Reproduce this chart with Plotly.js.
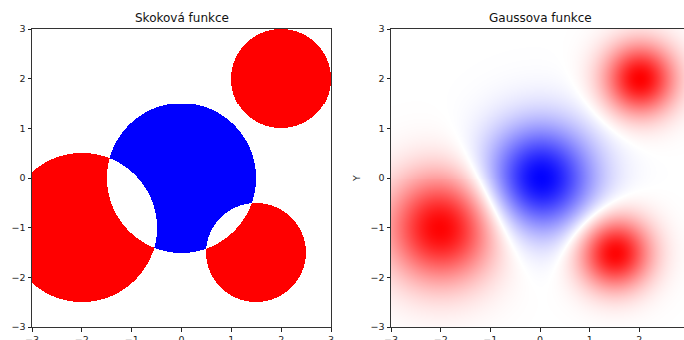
<!DOCTYPE html>
<html>
<head>
<meta charset="utf-8">
<script src="https://cdn.plot.ly/plotly-3.0.1.min.js"></script>
<style>
html,body{margin:0;padding:0;overflow:hidden;background:#fff;width:684px;height:340px;}
#plot{width:700px;height:340px;}
</style>
</head>
<body>
<div id="plot"></div>
<script>
// Circle / Gaussian parameters
const centersX = [2, 0, -2, 1.5];
const centersY = [2, 0, -1, -1.5];
const radii    = [1, 1.5, 1.5, 1];
const signs    = [1, -1, 1, 1];
const tickVals = [-3, -2, -1, 0, 1, 2, 3];
const titles   = ["Skoková funkce", "Gaussova funkce"];

const N = 300;
const grid = [];
for (let i = 0; i < N; i++) grid.push(-3 + 6 * (i + 0.5) / N);

const zStep = [], zGauss = [];
for (let j = 0; j < N; j++) {
  const rs = [], rg = [];
  for (let i = 0; i < N; i++) {
    let s = 0, g = 0;
    for (let k = 0; k < radii.length; k++) {
      const dx = grid[i] - centersX[k], dy = grid[j] - centersY[k];
      const d2 = dx * dx + dy * dy;
      if (d2 <= radii[k] * radii[k]) s += signs[k];
      const sg = radii[k] / 2;
      g += signs[k] * Math.exp(-d2 / (2 * sg * sg));
    }
    rs.push(s); rg.push(g);
  }
  zStep.push(rs); zGauss.push(rg);
}

const bwr = [[0, 'rgb(0,0,255)'], [0.5, 'rgb(255,255,255)'], [1, 'rgb(255,0,0)']];

const data = [
  {type: 'heatmap', x: grid, y: grid, z: zStep, colorscale: bwr, zmin: -1, zmax: 1,
   showscale: false, zsmooth: false, xaxis: 'x', yaxis: 'y', hoverinfo: 'skip'},
  {type: 'heatmap', x: grid, y: grid, z: zGauss, colorscale: bwr, zmin: -1, zmax: 1,
   showscale: false, zsmooth: 'best', xaxis: 'x2', yaxis: 'y2', hoverinfo: 'skip'}
];

const W = 700, H = 340;
const ax = (domain, anchor) => ({
  domain: domain, anchor: anchor, range: [-3, 3], tickvals: tickVals,
  showgrid: false, zeroline: false, showline: true, mirror: true,
  linecolor: '#333', linewidth: 1, ticks: 'outside', ticklen: 3.5, tickwidth: 1,
  tickcolor: '#222', tickfont: {family: 'DejaVu Sans', size: 9.5, color: '#222'}
});

const yd = [(H - 327) / H, (H - 29) / H];
const layout = {
  width: W, height: H,
  margin: {l: 0, r: 0, t: 0, b: 0},
  paper_bgcolor: '#fff', plot_bgcolor: '#fff',
  showlegend: false,
  xaxis: ax([32 / W, 331 / W], 'y'),
  yaxis: ax(yd, 'x'),
  xaxis2: ax([391 / W, 689 / W], 'y2'),
  yaxis2: Object.assign(ax(yd, 'x2'), {title: {text: 'Y', font: {family: 'DejaVu Sans', size: 9.5, color: '#222'}, standoff: 8}}),
  annotations: [
    {text: titles[0], x: 181.5 / W, y: (H - 18) / H, xref: 'paper', yref: 'paper',
     showarrow: false, font: {family: 'DejaVu Sans', size: 12, color: '#111'}, xanchor: 'center', yanchor: 'middle'},
    {text: titles[1], x: 540 / W, y: (H - 18) / H, xref: 'paper', yref: 'paper',
     showarrow: false, font: {family: 'DejaVu Sans', size: 12, color: '#111'}, xanchor: 'center', yanchor: 'middle'}
  ]
};

Plotly.newPlot('plot', data, layout, {staticPlot: true, displayModeBar: false});
</script>
</body>
</html>
